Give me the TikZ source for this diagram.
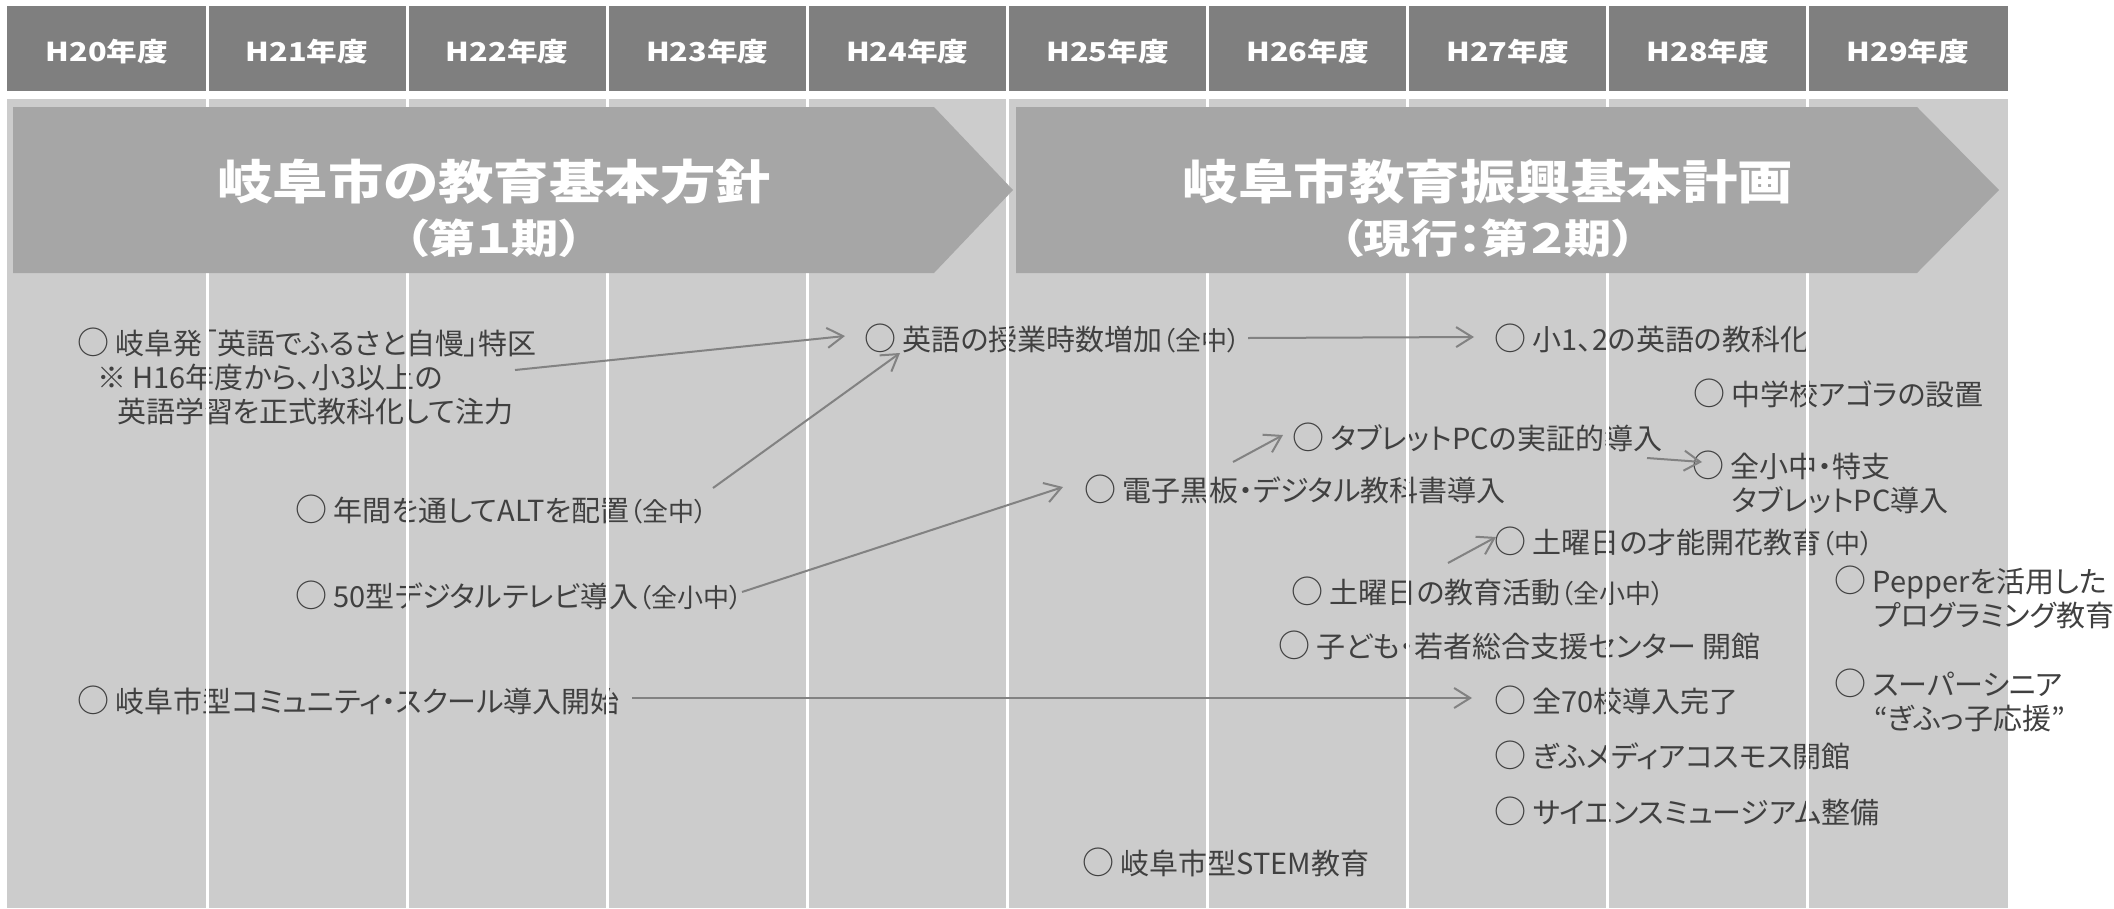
\documentclass[tikz,border=0pt]{standalone}
\usepackage{fontspec}
\newfontfamily\jpfont[RawFeature=+palt]{Noto Sans CJK JP}
\newfontfamily\jphead[RawFeature=+palt,FakeStretch=1.18]{Noto Sans CJK JP}
\usetikzlibrary{arrows.meta}
\definecolor{hdrgray}{HTML}{7F7F7F}
\definecolor{bodygray}{HTML}{CCCCCC}
\definecolor{bannergray}{HTML}{A6A6A6}
\definecolor{textgray}{HTML}{404040}
\definecolor{arrowgray}{HTML}{828282}
\newcommand{\sml}[1]{{\fontsize{26}{34}\selectfont #1}}
\newcommand{\maru}{{\fontsize{32}{34}\selectfont ○}}
\tikzset{
	item/.style={anchor=west,inner sep=0,align=left,text=textgray,font=\jpfont\fontsize{29}{34}\selectfont},
	yearlabel/.style={text=white,inner sep=0,font=\jphead\bfseries\fontsize{26}{30}\selectfont},
	titlelabel/.style={text=white,inner sep=0,font=\jphead\bfseries\fontsize{47}{50}\selectfont},
	sublabel/.style={text=white,inner sep=0,font=\jphead\bfseries\fontsize{40}{44}\selectfont},
	banner/.style={fill=bannergray},
	colline/.style={white,line width=3pt},
	diredge/.style={-{Straight Barb[length=16pt,width=20pt]},color=arrowgray,line width=2pt}
}

\begin{document}
\begin{tikzpicture}[x=1pt,y=-1pt]
	\useasboundingbox (0,0) rectangle (2114,908);
	
	%%%% header and body
	\fill[hdrgray] (7,6) rectangle (2008,91);
	\fill[bodygray] (7,99) rectangle (2008,908);
	\foreach \n [count=\i from 0] in {20,...,29}
		\node[yearlabel] (h\n) at ({107+200.1*\i},52) {H{\n}年度};
	
	%%%% H20 - H24
	\node[item] (tokku) at (77,376) {\maru{} 岐阜発「英語でふるさと自慢」特区\\\hspace*{20pt}※ H16年度から、小3以上の\\\hspace*{40pt}英語学習を正式教科化して注力};
	\node[item] (jisu) at (864,338) {\maru{} 英語の授業時数増加\sml{（全中）}};
	\node[item] (alt) at (295,509) {\maru{} 年間を通してALTを配置\sml{（全中）}};
	\node[item] (tv) at (295,595) {\maru{} 50型デジタルテレビ導入\sml{（全小中）}};
	\node[item] (comm) at (77,700) {\maru{} 岐阜市型コミュニティ・スクール導入開始};
	
	%%%% H25 - H29
	\node[item] (kyoka) at (1494,338) {\maru{} 小1、2の英語の教科化};
	\node[item] (agora) at (1693,393) {\maru{} 中学校アゴラの設置};
	\node[item] (tabjissho) at (1292,437) {\maru{} タブレットPCの実証的導入};
	\node[item] (zentab) at (1692,482) {\maru{} 全小中・特支\\\hspace*{40pt}タブレットPC導入};
	\node[item] (denshi) at (1084,489) {\maru{} 電子黒板・デジタル教科書導入};
	\node[item] (sainou) at (1494,541) {\maru{} 土曜日の才能開花教育\sml{（中）}};
	\node[item] (doyo) at (1291,591) {\maru{} 土曜日の教育活動\sml{（全小中）}};
	\node[item] (pepper) at (1834,597) {\maru{} Pepperを活用した\\\hspace*{40pt}プログラミング教育};
	\node[item] (center) at (1278,645) {\maru{} 子ども・若者総合支援センター 開館};
	\node[item] (zen70) at (1494,700) {\maru{} 全70校導入完了};
	\node[item] (senior) at (1834,700) {\maru{} スーパーシニア\\\hspace*{40pt}“ぎふっ子応援”};
	\node[item] (cosmos) at (1494,755) {\maru{} ぎふメディアコスモス開館};
	\node[item] (museum) at (1494,811) {\maru{} サイエンスミュージアム整備};
	\node[item] (stem) at (1082,862) {\maru{} 岐阜市型STEM教育};
	
	%%%% year lines
	\foreach \i in {1,...,9}
		\draw[colline] ({7+200.1*\i},6) -- ({7+200.1*\i},908);
	
	%%%% plans
	\fill[banner] (13,107) -- (934,107) -- (1013,190) -- (934,273) -- (13,273) -- cycle;
	\fill[banner] (1016,107) -- (1917,107) -- (1999,190) -- (1917,273) -- (1016,273) -- cycle;
	\node[titlelabel] (plan1) at (494,182) {岐阜市の教育基本方針};
	\node[sublabel] (plan1sub) at (494,238) {（第１期）};
	\node[titlelabel] (plan2) at (1488,182) {岐阜市教育振興基本計画};
	\node[sublabel] (plan2sub) at (1488,238) {（現行：第２期）};
	
	%%%% arrows
	\draw[diredge] ([shift={(438,-6)}]tokku.west) -- ([shift={(-19,-2)}]jisu.west);
	\draw[diredge] ([shift={(418,-21)}]alt.west) -- ([shift={(36,15)}]jisu.west);
	\draw[diredge] ([shift={(447,-3)}]tv.west) -- ([shift={(-21,-2)}]denshi.west);
	\draw[diredge] ([shift={(384,0)}]jisu.west) -- ([shift={(-20,-1)}]kyoka.west);
	\draw[diredge] ([shift={(149,-27)}]denshi.west) -- ([shift={(-9,-2)}]tabjissho.west);
	\draw[diredge] ([shift={(355,21)}]tabjissho.west) -- ([shift={(10,-20)}]zentab.west);
	\draw[diredge] ([shift={(157,-28)}]doyo.west) -- ([shift={(2,-4)}]sainou.west);
	\draw[diredge] ([shift={(555,-2)}]comm.west) -- ([shift={(-22,-2)}]zen70.west);
	
\end{tikzpicture}
\end{document}
